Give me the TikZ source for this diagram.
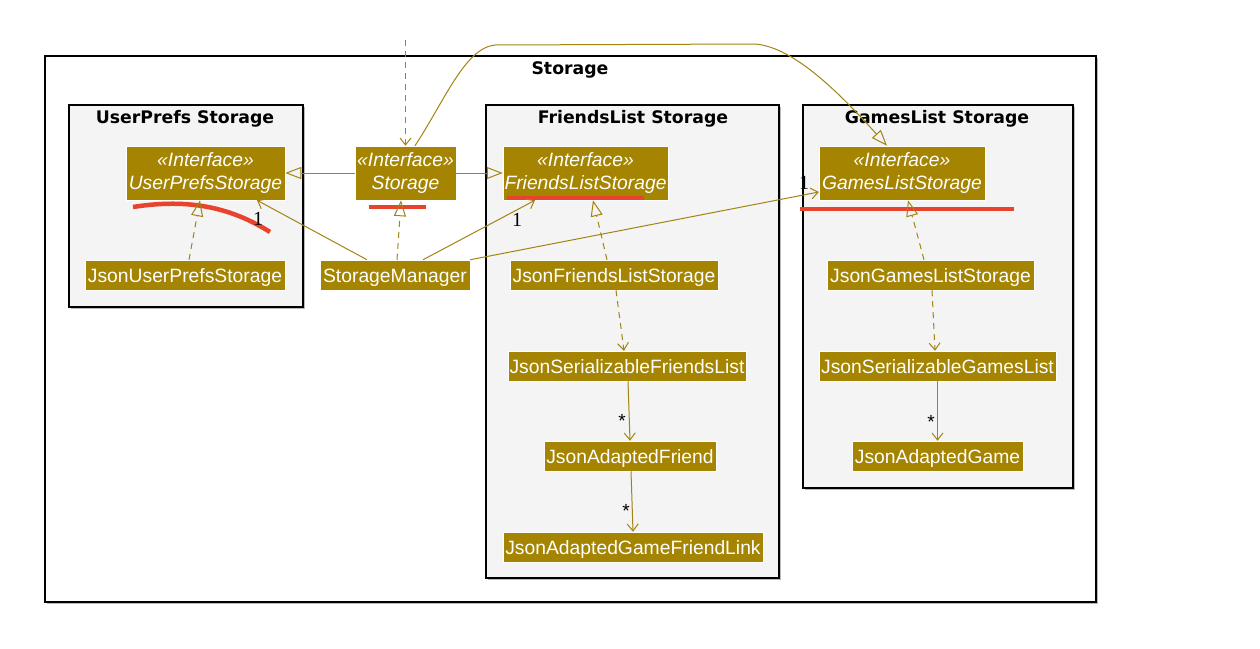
\documentclass[tikz,border=0pt]{standalone}
\usepackage{fontspec}
\setmainfont{Liberation Sans}
\newfontfamily\titlefont{DejaVu Sans}
\newfontfamily\labelfont{Liberation Serif}
\usetikzlibrary{arrows.meta,calc}
\definecolor{gold}{RGB}{164,132,0}
\definecolor{goldline}{RGB}{163,132,18}
\definecolor{grpfill}{RGB}{243,244,243}
\definecolor{redmark}{RGB}{232,67,45}
\definecolor{shadowgray}{RGB}{185,185,185}
\tikzset{
  cls/.style={fill=gold, draw=white, line width=0.5pt, text=white,
    font=\fontsize{19.3}{22}\selectfont, inner sep=0pt, align=center},
  single/.style={cls, text height=16.5pt, text depth=2pt},
  iface/.style={cls, font=\fontsize{19.3}{22.5}\selectfont\itshape},
  grp/.style={draw=black, fill=grpfill, line width=1.1pt},
  outerbox/.style={draw=black, fill=white, line width=1.3pt},
  grptitle/.style={font=\titlefont\bfseries\fontsize{17.3}{20}\selectfont, text=black},
  ln/.style={draw=goldline, line width=1pt},
  dsh/.style={ln, dash pattern=on 6pt off 5pt},
  ext/.style={-{Triangle[open, length=16pt, width=12pt, line width=1pt]}},
  barb/.style={-{Straight Barb[length=7pt, width=11pt, line width=1pt]}},
  mult/.style={font=\labelfont\fontsize{20}{22}\selectfont, text=black, inner sep=0pt},
  star/.style={font=\fontsize{19}{22}\selectfont, text=black, inner sep=0pt},
  redline/.style={draw=redmark, line width=4.5pt}
}
\begin{document}
\begin{tikzpicture}[x=1pt, y=-1pt]
\useasboundingbox (0,0) rectangle (1260,648);
\fill[white] (0,0) rectangle (1260,648);

% outer package
\fill[shadowgray] (47,58) rectangle (1098,604);
\path[outerbox] (45,56) rectangle (1096,602);
\node[grptitle] (tstorage) at (570,70) {Storage};

% groups
\fill[shadowgray] (71,107) rectangle (305,309);
\path[grp] (69,105) rectangle (303,307);
\node[grptitle] (tups) at (185,119) {UserPrefs Storage};

\fill[shadowgray] (488,107) rectangle (781,580);
\path[grp] (486,105) rectangle (779,578);
\node[grptitle] (tfls) at (633,119) {FriendsList Storage};

\fill[shadowgray] (805,107) rectangle (1075,490);
\path[grp] (803,105) rectangle (1073,488);
\node[grptitle] (tgls) at (937,119) {GamesList Storage};

% classes
\node[iface, minimum width=159pt, minimum height=54pt] (ups) at (205.5,173) {«Interface»\\UserPrefsStorage};
\node[iface, minimum width=101pt, minimum height=54pt] (sto) at (405.5,173) {«Interface»\\Storage};
\node[iface, minimum width=165pt, minimum height=54pt] (fls) at (585.5,173) {«Interface»\\FriendsListStorage};
\node[iface, minimum width=166pt, minimum height=54pt] (gls) at (902,173) {«Interface»\\GamesListStorage};

\node[single, minimum width=200pt, minimum height=30pt] (jups) at (185,275) {JsonUserPrefsStorage};
\node[single, minimum width=150pt, minimum height=30pt] (sm) at (395,275) {StorageManager};
\node[single, minimum width=208pt, minimum height=30pt] (jfls) at (614,275) {JsonFriendsListStorage};
\node[single, minimum width=207pt, minimum height=30pt] (jgls) at (930.5,275) {JsonGamesListStorage};
\node[single, minimum width=238pt, minimum height=30pt] (jsfl) at (627,366) {JsonSerializableFriendsList};
\node[single, minimum width=237pt, minimum height=30pt] (jsgl) at (937.5,366) {JsonSerializableGamesList};
\node[single, minimum width=172pt, minimum height=30pt] (jaf) at (630,456) {JsonAdaptedFriend};
\node[single, minimum width=171pt, minimum height=30pt] (jag) at (937.5,456) {JsonAdaptedGame};
\node[single, minimum width=260pt, minimum height=30pt] (jagfl) at (633,547) {JsonAdaptedGameFriendLink};

% red annotation marks
\draw[redline] (133,207) .. controls (190,198) and (232,208) .. (270,232);
\draw[redline, line width=4pt] (369,207) -- (426,207);
\draw[redline, line width=4pt] (507,198) -- (644,198);
\draw[redline, line width=4pt] (800,209) -- (1014,209);

% connectors
\coordinate (topin) at (405.5,40);
\draw[dsh, barb] (topin) -- (sto.north);
\draw[ln, ext] (sto.west) -- (ups.east);
\draw[ln, ext] (sto.east) -- (fls.west);
\draw[ln, ext] ([xshift=9.5pt]sto.north) .. controls (445,100) and (465,48) .. (495,45)
   -- (755,44) .. controls (792,47) and (835,88) .. ([xshift=-15pt]gls.north);

\draw[dsh, ext] ([xshift=4pt]jups.north) -- ([xshift=-5.5pt]ups.south);
\draw[dsh, ext] ([xshift=2pt]sm.north) -- ([xshift=-4.5pt]sto.south);

\draw[ln, barb] ([xshift=-28pt]sm.north) -- ([xshift=51.5pt]ups.south);
\node[mult] (m1) at (258,219) {1};
\draw[ln, barb] ([xshift=28pt]sm.north) -- ([xshift=-50.5pt]fls.south);
\node[mult] (m2) at (517,220) {1};
\draw[ln, barb] (sm.north east) -- ([yshift=-19pt]gls.west);
\node[mult] (m3) at (804,183) {1};

\draw[dsh, ext] ([xshift=-7pt]jfls.north) -- ([xshift=7.5pt]fls.south);
\draw[dsh, barb] ([xshift=2pt]jfls.south) -- ([xshift=-3pt]jsfl.north);
\draw[ln, barb] ([xshift=1pt]jsfl.south) -- (jaf.north);
\node[star] (m4) at (622,421) {*};
\draw[ln, barb] ([xshift=1pt]jaf.south) -- (jagfl.north);
\node[star] (m5) at (626,511) {*};

\draw[dsh, ext] ([xshift=-6.5pt]jgls.north) -- ([xshift=6pt]gls.south);
\draw[dsh, barb] ([xshift=1.5pt]jgls.south) -- ([xshift=-2.5pt]jsgl.north);
\draw[ln, barb] (jsgl.south) -- (jag.north);
\node[star] (m6) at (931,422) {*};
\end{tikzpicture}
\end{document}
